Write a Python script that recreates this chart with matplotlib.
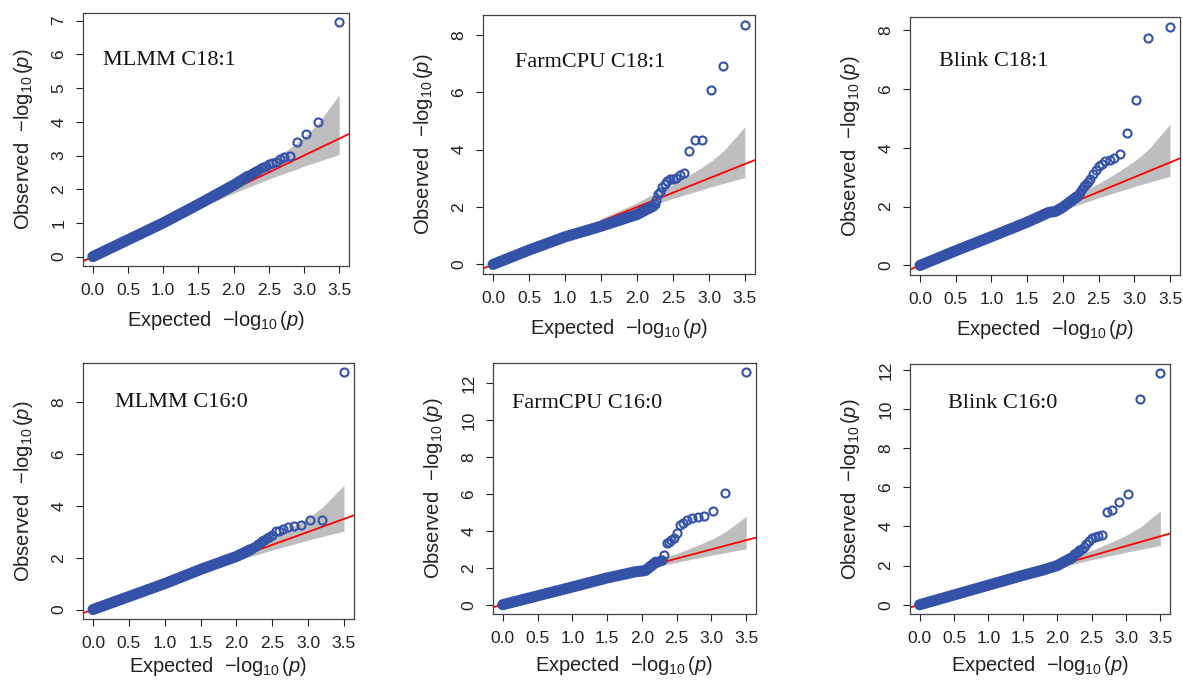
import numpy as np
import matplotlib.pyplot as plt

plt.rcParams['font.family'] = ['Liberation Sans', 'DejaVu Sans']
plt.rcParams['mathtext.fontset'] = 'custom'
plt.rcParams['mathtext.rm'] = 'Liberation Sans'
plt.rcParams['mathtext.it'] = 'Liberation Sans:italic'

# number of SNPs (top expected value = log10(n) = 3.5)
n_snps = 3162
ranks = np.arange(1, 21)

titles = ['MLMM C18:1', 'FarmCPU C18:1', 'Blink C18:1',
          'MLMM C16:0', 'FarmCPU C16:0', 'Blink C16:0']

# observed -log10(p) of the 20 smallest p-values
top_mlmm_181 = [6.95, 3.98, 3.64, 3.39, 2.99, 2.95, 2.90, 2.80, 2.77, 2.74,
                2.70, 2.66, 2.62, 2.58, 2.55, 2.52, 2.49, 2.46, 2.43, 2.40]
top_farm_181 = [8.36, 6.92, 6.09, 4.35, 4.35, 3.96, 3.20, 3.12, 3.02, 2.98,
                2.96, 2.90, 2.80, 2.70, 2.52, 2.46, 2.25, 2.12, 2.04, 2.00]
top_blink_181 = [8.12, 7.74, 5.62, 4.51, 3.79, 3.64, 3.60, 3.55, 3.45, 3.38,
                 3.26, 3.10, 2.93, 2.85, 2.76, 2.70, 2.59, 2.50, 2.42, 2.36]
top_mlmm_160 = [9.16, 3.47, 3.47, 3.28, 3.24, 3.18, 3.10, 3.05, 3.02, 2.88,
                2.82, 2.78, 2.70, 2.64, 2.58, 2.52, 2.47, 2.42, 2.38, 2.34]
top_farm_160 = [12.6, 6.04, 5.10, 4.81, 4.78, 4.68, 4.60, 4.45, 4.32, 3.91,
                3.60, 3.51, 3.42, 3.37, 2.70, 2.42, 2.40, 2.37, 2.34, 2.31]
top_blink_160 = [11.83, 10.51, 5.66, 5.23, 4.86, 4.76, 3.58, 3.52, 3.47, 3.40,
                 3.25, 3.10, 2.95, 2.85, 2.78, 2.72, 2.66, 2.58, 2.45, 2.38]

# the dense band of remaining points: (expected, observed) read along it
bulk_exp_mlmm_181 = [0.0, 0.5, 1.0, 1.5, 2.0, 2.2]
bulk_obs_mlmm_181 = [0.0, 0.5, 1.0, 1.55, 2.12, 2.38]
bulk_exp_farm_181 = [0.0, 0.5, 1.0, 1.5, 2.0, 2.2]
bulk_obs_farm_181 = [0.0, 0.5, 0.96, 1.33, 1.74, 2.0]
bulk_exp_blink_181 = [0.0, 0.5, 1.0, 1.5, 1.8, 1.9, 2.0, 2.2]
bulk_obs_blink_181 = [0.0, 0.5, 0.98, 1.47, 1.80, 1.84, 1.98, 2.34]
bulk_exp_mlmm_160 = [0.0, 0.5, 1.0, 1.5, 2.0, 2.2]
bulk_obs_mlmm_160 = [0.0, 0.5, 1.0, 1.55, 2.05, 2.32]
bulk_exp_farm_160 = [0.0, 0.5, 1.0, 1.5, 1.9, 2.05, 2.15, 2.2]
bulk_obs_farm_160 = [0.0, 0.48, 0.96, 1.45, 1.78, 1.85, 2.15, 2.31]
bulk_exp_blink_160 = [0.0, 0.5, 1.0, 1.5, 1.8, 2.0, 2.2]
bulk_obs_blink_160 = [0.0, 0.5, 1.0, 1.5, 1.78, 2.0, 2.38]

# grey confidence band (same for every panel)
band_x = [1.5, 2.0, 2.2, 2.5, 2.72, 2.9, 3.02, 3.2, 3.5]
band_hi = [1.6, 2.15, 2.42, 2.78, 3.10, 3.38, 3.58, 3.95, 4.80]
band_lo = [1.42, 1.88, 2.05, 2.30, 2.47, 2.60, 2.70, 2.82, 3.03]

tops = [top_mlmm_181, top_farm_181, top_blink_181,
        top_mlmm_160, top_farm_160, top_blink_160]
bulks = [(bulk_exp_mlmm_181, bulk_obs_mlmm_181), (bulk_exp_farm_181, bulk_obs_farm_181),
         (bulk_exp_blink_181, bulk_obs_blink_181), (bulk_exp_mlmm_160, bulk_obs_mlmm_160),
         (bulk_exp_farm_160, bulk_obs_farm_160), (bulk_exp_blink_160, bulk_obs_blink_160)]
yticks = [range(0, 8), range(0, 9, 2), range(0, 9, 2),
          range(0, 9, 2), range(0, 13, 2), range(0, 13, 2)]

# axes boxes in pixels: left, right, top, bottom
W, H = 1183, 682
boxes = [(83, 349, 13, 266), (483, 755, 15, 274), (910, 1180, 17, 275),
         (83, 354, 363, 619), (493, 756, 363, 614), (910, 1170, 364, 614)]
title_pos = [(0.075, 0.814), (0.118, 0.815), (0.107, 0.826),
             (0.118, 0.844), (0.072, 0.840), (0.146, 0.844)]
xlabel_pad = [8, 8, 8, 3, 6, 6]

blue = '#3352A8'
fig = plt.figure(figsize=(W / 100, H / 100), dpi=100)

expected_top = np.log10(n_snps / ranks)
xmax = np.log10(n_snps)

for i in range(6):
    l, r, t, b = boxes[i]
    ax = fig.add_axes([l / W, 1 - b / H, (r - l) / W, (b - t) / H])

    ax.fill_between(band_x, band_lo, band_hi, color='#BEBEBE', lw=0, zorder=1)
    ax.axline((0, 0), slope=1, color='red', lw=1.3, zorder=2)

    bx, by = bulks[i]
    ax.plot(bx, by, color=blue, lw=8, solid_capstyle='round', zorder=3)
    ax.plot(expected_top, tops[i], 'o', mfc='none', mec=blue, ms=5.8, mew=1.5, zorder=4)

    ymax = max(tops[i])
    ax.set_xlim(-0.04 * xmax, xmax * 1.04)
    ax.set_ylim(-0.04 * ymax, ymax * 1.04)
    ax.set_xticks(np.arange(0, 3.6, 0.5))
    ax.set_xticklabels(['%.1f' % v for v in np.arange(0, 3.6, 0.5)])
    ax.set_yticks(list(yticks[i]))
    ax.tick_params(labelsize=12.5, length=5, width=0.8, pad=7, colors='#222222')
    for lab in ax.get_yticklabels():
        lab.set_rotation(90)
        lab.set_va('center')
    for s in ax.spines.values():
        s.set_color('#444444')
        s.set_linewidth(0.9)

    ax.set_xlabel(r'Expected  $-\log_{10}(p)$', fontsize=14.5, labelpad=xlabel_pad[i],
                  color='#222222')
    ax.set_ylabel(r'Observed  $-\log_{10}(p)$', fontsize=14.5, labelpad=12, color='#222222')
    tx, ty = title_pos[i]
    ax.text(tx, ty, titles[i], transform=ax.transAxes, ha='left', va='center',
            fontsize=16, family=['Liberation Serif', 'DejaVu Serif'], color='#111111')

fig.savefig('out.png', dpi=100)
